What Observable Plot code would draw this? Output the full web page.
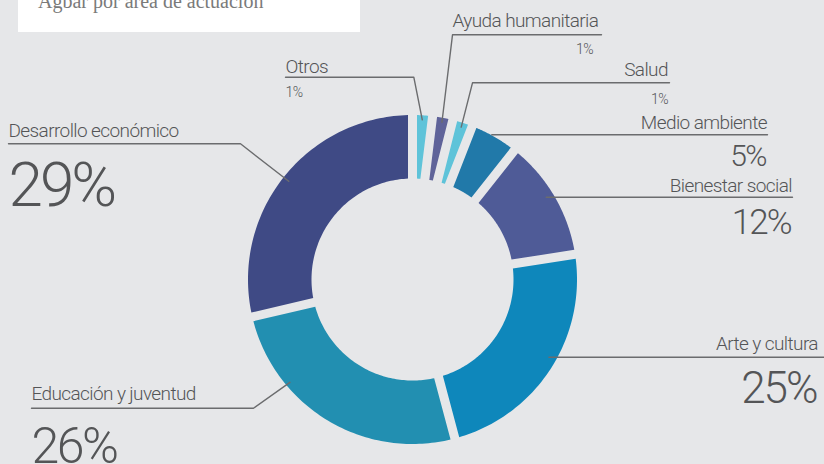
<!DOCTYPE html>
<html><head><meta charset="utf-8">
<script src="https://cdn.jsdelivr.net/npm/d3@7"></script>
<script src="https://cdn.jsdelivr.net/npm/@observablehq/plot@0.6"></script>
<style>
html,body{margin:0;padding:0;background:#e6e7e9;}
#wrap{position:relative;width:824px;height:464px;overflow:hidden;}
#title{position:absolute;left:18px;top:0;width:342px;height:32px;background:#fff;}
#title span{position:absolute;left:20px;top:-9px;line-height:20px;font-family:"Liberation Serif",serif;font-size:20px;color:#7a7a7a;white-space:nowrap;}
</style></head><body>
<div id="wrap"><div id="title"><span>Agbar por área de actuación</span></div></div>
<script>
// ---- data ----
const categories = ["Otros","Ayuda humanitaria","Salud","Medio ambiente","Bienestar social","Arte y cultura","Educación y juventud","Desarrollo económico"];
// share of the ring drawn for each slice (percent of circle)
const shares = [1.95, 1.99, 1.97, 4.72, 11.92, 23.3, 25.5, 28.65];
// printed percentage labels
const pctLabels = ["1%","1%","1%","5%","12%","25%","26%","29%"];
const colors = ["#5ec3d9","#5f6399","#5ec3d9","#2179a9","#4f5b97","#0e87bb","#228fb1","#3f4a85"];

// ---- layout (positions, not data) ----
const cx = 412, cy = 279, R1 = 164.5, R0 = 101, gap = 9;
const layout = [
  {tx:285, ty:72,  ta:"start", uy:76.7,  end:285, knee:413.3, ar:160, px:285, py:96.7, pa:"start", ps:14, ls:-0.5},
  {tx:452, ty:26,  ta:"start", uy:34.3,  end:601, knee:452,   ar:160, px:593, py:53,   pa:"end",   ps:14, ls:-0.5},
  {tx:668, ty:75,  ta:"end",   uy:82.3,  end:669, knee:472,   ar:160, px:668, py:103,  pa:"end",   ps:14, ls:-0.5},
  {tx:767, ty:128, ta:"end",   uy:134.3, end:767, knee:null,  ar:165, px:767, py:165,  pa:"end",   ps:30, ls:-1.5},
  {tx:792, ty:191, ta:"end",   uy:196.7, end:792, knee:null,  ar:157, px:792, py:233,  pa:"end",   ps:35, ls:-2},
  {tx:818, ty:349, ta:"end",   uy:356.7, end:824, knee:null,  ar:157, px:818, py:402,  pa:"end",   ps:44, ls:-2},
  {tx:31,  ty:399, ta:"start", uy:407.7, end:31,  knee:253,   ar:160, ang:230, px:31, py:462, pa:"start", ps:50, ls:-2.5},
  {tx:8,   ty:136, ta:"start", uy:143.3, end:8,   knee:240,   ar:158, px:8,  py:205,  pa:"start", ps:62, ls:-3}
];
const nameLs = -0.6;

// ---- build slice polygons ----
const slices = [];
let acc = 0;
categories.forEach((name, i) => {
  const a0 = acc / 100 * 2 * Math.PI;
  acc += shares[i];
  const a1 = acc / 100 * 2 * Math.PI;
  slices.push({name, a0, a1});
});
const ring = [];
const N = 80;
const dO = Math.asin(gap / 2 / R1), dI = Math.asin(gap / 2 / R0);
for (const s of slices) {
  for (let k = 0; k <= N; k++) {
    const a = s.a0 + dO + (s.a1 - s.a0 - 2 * dO) * k / N;
    ring.push({name: s.name, x: cx + R1 * Math.sin(a), y: cy - R1 * Math.cos(a)});
  }
  for (let k = 0; k <= N; k++) {
    const a = s.a1 - dI - (s.a1 - s.a0 - 2 * dI) * k / N;
    ring.push({name: s.name, x: cx + R0 * Math.sin(a), y: cy - R0 * Math.cos(a)});
  }
}

// ---- leader lines ----
const leaders = [];
slices.forEach((s, i) => {
  const L = layout[i];
  let ax, ay;
  if (L.knee == null) {
    ay = L.uy;
    ax = cx + Math.sqrt(L.ar * L.ar - (L.uy - cy) * (L.uy - cy));
  } else {
    const a = L.ang != null ? L.ang * Math.PI / 180 : (s.a0 + s.a1) / 2;
    ax = cx + L.ar * Math.sin(a);
    ay = cy - L.ar * Math.cos(a);
  }
  leaders.push({name: s.name, x: L.end, y: L.uy});
  if (L.knee != null) leaders.push({name: s.name, x: L.knee, y: L.uy});
  leaders.push({name: s.name, x: ax, y: ay});
});

const font = "Roboto, 'Noto Sans', sans-serif";
const textColor = "#545557";
// end-anchored text with negative letter-spacing overshoots by |ls|; compensate
const nameMarks = categories.map((c, i) => Plot.text([c], {
  x: () => layout[i].tx + (layout[i].ta === "end" ? nameLs : 0), y: () => layout[i].ty, text: d => d,
  textAnchor: layout[i].ta, lineAnchor: "bottom", fontSize: 19, fontWeight: 300,
  fontFamily: font, fill: textColor
}));
const pctMarks = pctLabels.map((p, i) => Plot.text([p], {
  x: () => layout[i].px + (layout[i].pa === "end" ? layout[i].ls : 0), y: () => layout[i].py, text: d => d,
  textAnchor: layout[i].pa, lineAnchor: "bottom", fontSize: layout[i].ps, fontWeight: 300,
  fontFamily: font, fill: textColor
}));

const chart = Plot.plot({
  width: 824, height: 464,
  margin: 0,
  x: {domain: [0, 824], range: [0, 824], axis: null},
  y: {domain: [0, 464], range: [0, 464], axis: null},
  color: {domain: categories, range: colors},
  style: {background: "#e6e7e9", overflow: "visible"},
  marks: [
    Plot.line(ring, {x: "x", y: "y", z: "name", fill: "name", stroke: "none"}),
    Plot.line(leaders, {x: "x", y: "y", z: "name", stroke: "#6b6c6e", strokeWidth: 1.4}),
    ...nameMarks,
    ...pctMarks
  ]
});
// tighten letter spacing to match the condensed face of the original
const textGroups = chart.querySelectorAll('g[aria-label="text"]');
textGroups.forEach((g, gi) => {
  const ls = gi < categories.length ? nameLs : layout[gi - categories.length].ls;
  g.querySelectorAll("text").forEach(t => t.style.letterSpacing = ls + "px");
});
document.getElementById("wrap").prepend(chart);
</script>
</body></html>
